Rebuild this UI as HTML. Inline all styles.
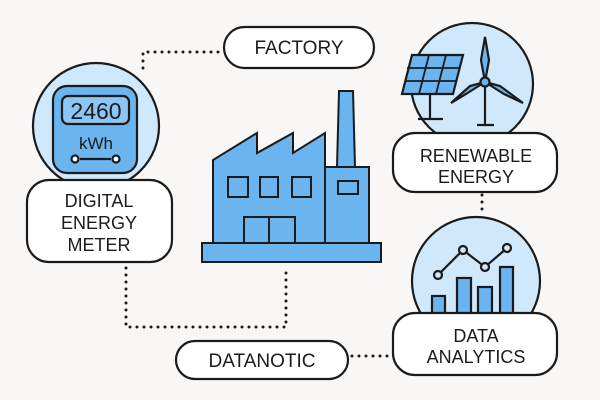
<!DOCTYPE html>
<html><head><meta charset="utf-8"><style>
html,body{margin:0;padding:0;background:#f8f7f5;}
svg{display:block}
text{font-family:"Liberation Sans",sans-serif;fill:#1b1b1b;text-anchor:middle}
</style></head><body>
<svg width="600" height="400" viewBox="0 0 600 400" xmlns="http://www.w3.org/2000/svg">
<rect width="600" height="400" fill="#f8f7f5"/>
<g stroke="#1b1b1b" stroke-width="3" stroke-linecap="round" stroke-dasharray="0 7" fill="none">
<path d="M218 52 H143 V72"/>
<path d="M126 268 V327 H286 V272"/>
<path d="M352 356 H388"/>
<path d="M482 195 V216"/>
</g>
<g stroke="#1b1b1b" stroke-width="2.2" fill="#fff">
<rect x="224" y="27" width="150" height="41" rx="20.5"/>
<rect x="176" y="341" width="172" height="38" rx="19"/>
</g>
<!-- meter -->
<g stroke="#1b1b1b" stroke-width="2.2">
<circle cx="96" cy="126" r="63" fill="#cfe8fb"/>
<rect x="53" y="86" width="84" height="87" rx="14" fill="#6ab4f0"/>
<rect x="62" y="96" width="67" height="28" rx="6" fill="#8cc6f4"/>
<line x1="80" y1="159" x2="111" y2="159"/>
<circle cx="75" cy="159" r="3.5" fill="#fff"/><circle cx="116" cy="159" r="3.5" fill="#fff"/>
<rect x="27" y="180" width="145" height="82" rx="22" fill="#fff"/>
</g>
<text x="96" y="119" font-size="23">2460</text>
<text x="96" y="149" font-size="17">kWh</text>
<text x="99" y="207" font-size="18">DIGITAL</text>
<text x="99" y="229" font-size="18">ENERGY</text>
<text x="99" y="251" font-size="18">METER</text>
<text x="299" y="54" font-size="19">FACTORY</text>
<text x="262" y="367" font-size="19">DATANOTIC</text>
<!-- factory -->
<g stroke="#1b1b1b" stroke-width="2" fill="#6ab4f0">
<path d="M337 167 L339 91 L353 91 L355 167 Z"/>
<path d="M213 243 V160 L257 133 V153 L293 133 V153 L325 133 V243 Z"/>
<rect x="325" y="167" width="44" height="76"/>
<rect x="228" y="177" width="20" height="20"/>
<rect x="260" y="177" width="18" height="20"/>
<rect x="292" y="177" width="19" height="20"/>
<rect x="338" y="181" width="20" height="13"/>
<rect x="244" y="217" width="51" height="26"/>
<line x1="269" y1="217" x2="269" y2="243"/>
<rect x="202" y="243" width="179" height="19"/>
</g>
<!-- renewable -->
<g stroke="#1b1b1b" stroke-width="2.2">
<circle cx="472" cy="84" r="61" fill="#cfe8fb"/>
<path d="M412 55 L463 55 L453 94 L402 94 Z" fill="#6ab4f0"/>
<path d="M429 55 L419 94 M446 55 L436 94 M407 68 L459 68 M405 81 L456 81" fill="none" stroke-width="1.8"/>
<path d="M430 94 V119 M418 119 H443 M485 84 V125 M477 125 H494" fill="none"/>
<path d="M485 82 L481 60 L485 37 L489 60 Z" fill="#6ab4f0"/>
<path d="M485 82 L466 94 L451 103 L470 86 Z" fill="#6ab4f0"/>
<path d="M485 82 L504 94 L523 103 L500 86 Z" fill="#6ab4f0"/>
<circle cx="485" cy="82" r="4.5" fill="#6ab4f0"/>
<rect x="393" y="133" width="164" height="59" rx="22" fill="#fff"/>
</g>
<text x="476" y="162" font-size="18">RENEWABLE</text>
<text x="476" y="183" font-size="18">ENERGY</text>
<!-- analytics -->
<g stroke="#1b1b1b" stroke-width="2.2">
<circle cx="476" cy="281" r="64" fill="#cfe8fb"/>
<rect x="432" y="296" width="13" height="20" fill="#6ab4f0"/>
<rect x="457" y="278" width="14" height="38" fill="#6ab4f0"/>
<rect x="478" y="287" width="14" height="29" fill="#6ab4f0"/>
<rect x="500" y="267" width="13" height="49" fill="#6ab4f0"/>
<path d="M438 275 L463 250 L485 267 L507 248" fill="none"/>
<circle cx="438" cy="275" r="4" fill="#cfe8fb"/><circle cx="463" cy="250" r="4" fill="#cfe8fb"/>
<circle cx="485" cy="267" r="4" fill="#cfe8fb"/><circle cx="507" cy="248" r="4" fill="#cfe8fb"/>
<rect x="393" y="313" width="164" height="62" rx="22" fill="#fff"/>
</g>
<text x="476" y="342" font-size="18">DATA</text>
<text x="476" y="363" font-size="18">ANALYTICS</text>
</svg>
</body></html>
